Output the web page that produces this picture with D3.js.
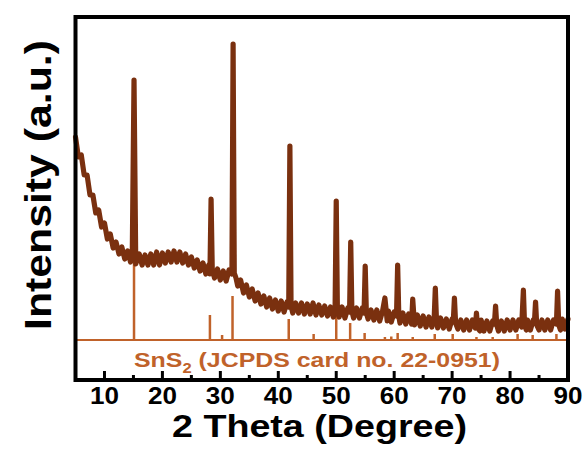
<!DOCTYPE html>
<html>
<head>
<meta charset="utf-8">
<script src="https://cdn.jsdelivr.net/npm/d3@7"></script>
<style>
  body { margin: 0; background: #ffffff; }
  svg text { font-family: "Liberation Sans", Arial, sans-serif; font-weight: bold; }
</style>
</head>
<body>
<svg id="chart" width="587" height="466"></svg>
<script>
"use strict";

// measured XRD pattern, 2 theta (degree) and intensity (a.u.)
var pattern = [
  [5.0, 203], [5.5, 183], [6.0, 185], [6.5, 165], [7.0, 165], [7.5, 145], [8.0, 145],
  [8.5, 127], [9.0, 130], [9.5, 113], [10.0, 117], [10.5, 101], [11.0, 106], [11.5, 92],
  [12.0, 98], [12.5, 86], [13.0, 93], [13.5, 81], [14.0, 89], [14.5, 78], [14.8, 86],
  [15.1, 260], [15.4, 76], [16.0, 86], [16.5, 75], [17.0, 85], [17.5, 75], [18.0, 86],
  [18.5, 75], [19.0, 88], [19.5, 75], [20.0, 87], [20.5, 77], [21.0, 88], [21.5, 78],
  [22.0, 89], [22.5, 78], [23.0, 88], [23.5, 77], [24.0, 86], [24.5, 75], [25.0, 83],
  [25.5, 72], [26.0, 80], [26.5, 69], [27.0, 77], [27.5, 66], [28.0, 75], [28.2, 66],
  [28.4, 141], [28.6, 71], [29.0, 62], [29.5, 71], [30.0, 60], [30.5, 69], [31.0, 59],
  [31.5, 70], [32.0, 66], [32.2, 296], [32.4, 67], [32.7, 62], [33.0, 54], [33.5, 60],
  [34.0, 47], [34.5, 55], [35.0, 43], [35.5, 51], [36.0, 39], [36.5, 47], [37.0, 36],
  [37.5, 44], [38.0, 33], [38.5, 42], [39.0, 31], [39.5, 40], [40.0, 29], [40.5, 39],
  [41.0, 28], [41.5, 38], [41.8, 33], [42.0, 194], [42.2, 34], [42.5, 27], [43.0, 37],
  [43.5, 27], [44.0, 37], [44.5, 26], [45.0, 36], [45.5, 26], [46.0, 37], [46.5, 25],
  [47.0, 35], [47.5, 25], [48.0, 34], [48.5, 24], [49.0, 33], [49.5, 23], [49.8, 30],
  [50.0, 139], [50.2, 30], [50.5, 23], [51.0, 33], [51.5, 22], [52.0, 32], [52.3, 28],
  [52.5, 98], [52.7, 29], [53.0, 22], [53.5, 32], [54.0, 22], [54.5, 32], [54.8, 27],
  [55.0, 74], [55.2, 27], [55.5, 21], [56.0, 30], [56.5, 20], [57.0, 30], [57.5, 19],
  [58.0, 29], [58.4, 42], [58.8, 19], [59.0, 29], [59.5, 18], [60.0, 28], [60.4, 24],
  [60.6, 75], [60.8, 24], [61.0, 17], [61.5, 27], [62.0, 16], [62.5, 26], [63.0, 16],
  [63.2, 41], [63.5, 15], [64.0, 25], [64.5, 14], [65.0, 24], [65.5, 13], [66.0, 23],
  [66.5, 13], [66.9, 21], [67.1, 52], [67.3, 20], [67.5, 12], [68.0, 22], [68.5, 12],
  [69.0, 21], [69.5, 11], [70.0, 21], [70.2, 18], [70.4, 42], [70.6, 17], [71.0, 11],
  [71.5, 20], [72.0, 10], [72.5, 20], [73.0, 10], [73.5, 20], [74.0, 12], [74.2, 27],
  [74.4, 12], [74.8, 9], [75.0, 20], [75.5, 9], [76.0, 19], [76.5, 9], [77.0, 19],
  [77.3, 16], [77.5, 34], [77.7, 15], [78.0, 9], [78.5, 19], [79.0, 9], [79.5, 20],
  [80.0, 10], [80.5, 20], [81.0, 10], [81.5, 20], [82.0, 13], [82.3, 50], [82.5, 15],
  [82.8, 10], [83.0, 20], [83.5, 10], [84.0, 20], [84.2, 17], [84.4, 38], [84.6, 15],
  [85.0, 10], [85.5, 20], [86.0, 10], [86.5, 20], [87.0, 10], [87.5, 20], [88.0, 16],
  [88.2, 49], [88.4, 15], [88.7, 10], [89.0, 21], [89.5, 11], [90.0, 21]
];

// JCPDS 22-0951 reference lines (position, relative intensity)
var refPos = [15.1, 28.2, 30.3, 32.1, 41.8, 46.1, 50.0, 52.4, 54.9, 58.4,
              59.5, 60.6, 63.2, 67.0, 70.1, 74.2, 77.0, 81.3, 83.9, 88.0];
var refInt = [80, 25, 5, 44, 21, 6, 25, 17, 7, 3,
              3.5, 7, 3, 6, 6, 3, 3, 6, 5, 6];

var majorTicks = [10, 20, 30, 40, 50, 60, 70, 80, 90];
var minorTicks = [15, 25, 35, 45, 55, 65, 75, 85];

var xLabel = "2 Theta (Degree)",
    yLabel = "Intensity (a.u.)";

var Draw = (function() {
  var svg = d3.select("#chart");
  var left = 75.5, right = 568, top = 17, bottom = 380;

  var x = d3.scaleLinear().domain([5, 90]).range([left, right]);
  var y = d3.scaleLinear().domain([-40, 323]).range([bottom, top]);

  var dark = "#7a300f", orange = "#c0622a";

  // reference card: baseline and sticks
  svg.append("line")
    .attr("x1", left).attr("x2", right)
    .attr("y1", y(0)).attr("y2", y(0))
    .attr("stroke", orange).attr("stroke-width", 2);

  svg.selectAll(".stick").data(refPos)
    .enter().append("line")
    .attr("class", "stick")
    .attr("x1", d => x(d)).attr("x2", d => x(d))
    .attr("y1", y(0)).attr("y2", (d, i) => y(refInt[i]))
    .attr("stroke", orange).attr("stroke-width", 2.5);

  // measured pattern, drawn fat so the noise reads as a band
  var line = d3.line()
    .x(d => x(d[0]))
    .y(d => y(d[1]));

  svg.append("path")
    .datum(pattern)
    .attr("d", line)
    .attr("fill", "none")
    .attr("stroke", dark)
    .attr("stroke-width", 5.2)
    .attr("stroke-linejoin", "round")
    .attr("stroke-linecap", "round");

  // frame
  svg.append("rect")
    .attr("x", left).attr("y", top)
    .attr("width", right - left).attr("height", bottom - top)
    .attr("fill", "none").attr("stroke", "#000").attr("stroke-width", 4);

  // inward ticks on the bottom axis
  var axis = svg.append("g").attr("transform", "translate(0," + bottom + ")");
  axis.selectAll(".major").data(majorTicks)
    .enter().append("line")
    .attr("x1", d => x(d)).attr("x2", d => x(d))
    .attr("y1", 0).attr("y2", -9)
    .attr("stroke", "#000").attr("stroke-width", 3);
  axis.selectAll(".minor").data(minorTicks)
    .enter().append("line")
    .attr("x1", d => x(d)).attr("x2", d => x(d))
    .attr("y1", 0).attr("y2", -5)
    .attr("stroke", "#000").attr("stroke-width", 3);
  axis.selectAll(".tlabel").data(majorTicks)
    .enter().append("text")
    .attr("x", d => x(d)).attr("y", 24)
    .attr("text-anchor", "middle")
    .attr("font-size", 23)
    .attr("textLength", 29)
    .attr("lengthAdjust", "spacingAndGlyphs")
    .text(d => d);

  // reference card label
  var card = svg.append("text")
    .attr("x", 134).attr("y", 367)
    .attr("font-size", 21)
    .attr("textLength", 366)
    .attr("lengthAdjust", "spacingAndGlyphs")
    .attr("fill", orange);
  card.append("tspan").text("SnS");
  card.append("tspan").attr("font-size", 14).attr("dy", 6).text("2");
  card.append("tspan").attr("dy", -6).text(" (JCPDS card no.  22-0951)");

  // axis titles
  svg.append("text")
    .attr("x", 172).attr("y", 437)
    .attr("font-size", 31)
    .attr("textLength", 295)
    .attr("lengthAdjust", "spacingAndGlyphs")
    .text(xLabel);

  svg.append("text")
    .attr("transform", "translate(51,330) rotate(-90)")
    .attr("font-size", 37)
    .attr("textLength", 290)
    .attr("lengthAdjust", "spacingAndGlyphs")
    .text(yLabel);
});

Draw();
</script>
</body>
</html>
